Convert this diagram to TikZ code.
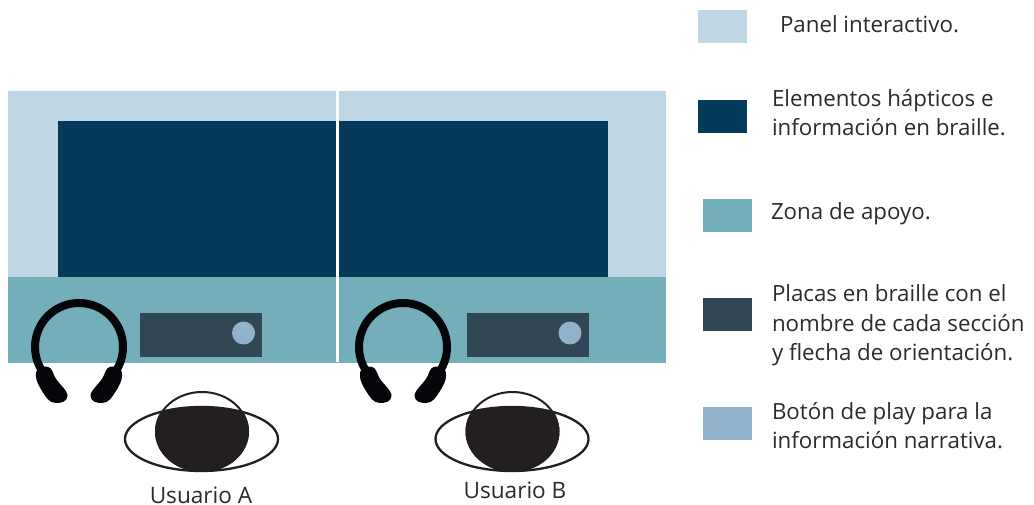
\documentclass[tikz,border=0pt]{standalone}
\usepackage{fontspec}
\setmainfont{Open Sans}
\definecolor{cpanel}{HTML}{BFD6E4}
\definecolor{cdark}{HTML}{053A5A}
\definecolor{cteal}{HTML}{74AEBB}
\definecolor{cplate}{HTML}{324756}
\definecolor{cbtn}{HTML}{90B2CD}
\definecolor{cphone}{HTML}{050609}
\definecolor{chead}{HTML}{231F20}
\definecolor{ctext}{HTML}{2C2A2B}
\tikzset{
  lab/.style={inner sep=0pt,outer sep=0pt,text=ctext,align=left,anchor=base west,font=\fontsize{22.3}{29.3}\selectfont},
  ulab/.style={inner sep=0pt,outer sep=0pt,text=ctext,anchor=base,font=\fontsize{22.6}{29.3}\selectfont},
  pics/phones/.style={code={
    \draw[cphone,line width=8pt] (-37.3,23.3) arc[start angle=148,end angle=392,x radius=44,y radius=44];
    \fill[cphone] (-43,29) .. controls (-43.5,22) and (-40,19.5) .. (-35,19.5)
      .. controls (-28,19.5) and (-27.5,22) .. (-25,28)
      .. controls (-22,36) and (-11,43) .. (-11.5,49)
      .. controls (-12,55) and (-18,56) .. (-23,56)
      .. controls (-30,56) and (-33,50) .. (-37,44)
      .. controls (-40,39) and (-43,34) .. cycle;
    \begin{scope}[xscale=-1]
    \fill[cphone] (-43,29) .. controls (-43.5,22) and (-40,19.5) .. (-35,19.5)
      .. controls (-28,19.5) and (-27.5,22) .. (-25,28)
      .. controls (-22,36) and (-11,43) .. (-11.5,49)
      .. controls (-12,55) and (-18,56) .. (-23,56)
      .. controls (-30,56) and (-33,50) .. (-37,44)
      .. controls (-40,39) and (-43,34) .. cycle;
    \end{scope}
  }},
  pics/person/.style={code={
    \draw[chead,line width=2.3pt] (0,0) ellipse[x radius=76.5,y radius=32];
    \draw[chead,line width=2pt] (0.5,-7.5) ellipse[x radius=46,y radius=39.5];
    \begin{scope}
      \clip (0,0) ellipse[x radius=77,y radius=32];
      \fill[chead] (0.5,-7.5) ellipse[x radius=47,y radius=40.5];
    \end{scope}
  }}
}
\begin{document}
\begin{tikzpicture}[x=1pt,y=-1pt]
\useasboundingbox (0,0) rectangle (1034,505);
\fill[white] (0,0) rectangle (1034,505);
% panel
\fill[cpanel] (8,91) rectangle (666,277);
\fill[cdark] (58,121) rectangle (608,277);
\fill[cteal] (8,277) rectangle (666,363);
\fill[white] (336.2,91) rectangle (338.8,362);
% plates
\fill[cplate] (140,313) rectangle (262,357);
\fill[cbtn] (243.5,333) circle[radius=11.5];
\fill[cplate] (467,313) rectangle (589,357);
\fill[cbtn] (570,333) circle[radius=11.5];
% headphones
\pic at (79,347) {phones};
\pic at (403,347) {phones};
% users
\pic at (201.5,439) {person};
\pic at (512,439) {person};
\node[ulab] (ua) at (201,503.5) {Usuario A};
\node[ulab] (ub) at (515,498.5) {Usuario B};
% legend
\fill[cpanel] (698,10) rectangle (747,43);
\fill[cdark] (698,100) rectangle (747,133);
\fill[cteal] (703,199) rectangle (752,232);
\fill[cplate] (703,298) rectangle (752,331);
\fill[cbtn] (703,407) rectangle (752,440);
\node[lab] (l1) at (780,32.2) {Panel interactivo.};
\node[lab,anchor=north west] (l2) at (772,89.5) {Elementos hápticos e\\información en braille.};
\node[lab] (l3) at (771,220) {Zona de apoyo.};
\node[lab,anchor=north west] (l4) at (772,285) {Placas en braille con el\\nombre de cada sección\\y flecha de orientación.};
\node[lab,anchor=north west] (l5) at (772,402) {Botón de play para la\\información narrativa.};
\end{tikzpicture}
\end{document}
